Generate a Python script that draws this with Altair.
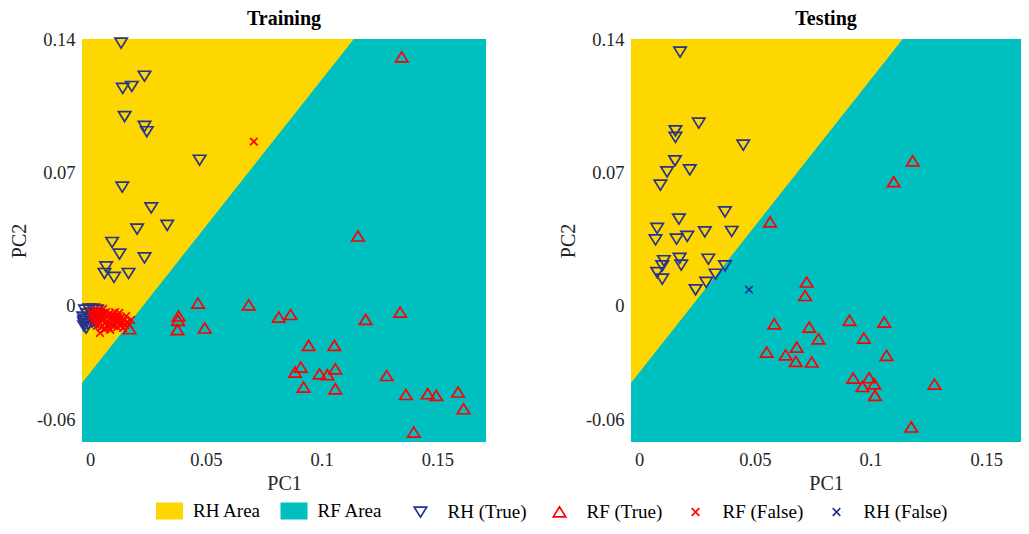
import altair as alt
import pandas as pd

# ---------------- data ----------------
AREAS = ["RH Area", "RF Area"]
CLASSES = ["RH (True)", "RF (True)", "RF (False)", "RH (False)"]

X_MIN = -0.0035
X_MAX_TRAIN = 0.171
X_MAX_TEST = 0.165
Y_MIN = -0.0716
Y_MAX = 0.1405

# decision boundary (RH area lies above / left of it)
boundary_x = [-0.0035, 0.1139]
boundary_y = [-0.0405, 0.1405]

# Training: RH (True)
train_rh_true_x = [0.0134, 0.0235, 0.0141, 0.0180, 0.0149, 0.0235, 0.0245, 0.0473, 0.0139, 0.0264,
                   0.0333, 0.0203, 0.0095, 0.0127, 0.0235, 0.0069, 0.0062, 0.0103, 0.0166,
                   -0.0022, -0.0004, 0.0013, 0.0030, -0.0013, 0.0004, 0.0022, -0.0030, -0.0017, 0.0000,
                   0.0017, 0.0035, -0.0026, -0.0009, -0.0026, -0.0017, -0.0026, 0.0009, 0.0026, 0.0048]
train_rh_true_y = [0.1384, 0.1210, 0.1146, 0.1156, 0.0998, 0.0946, 0.0918, 0.0768, 0.0626, 0.0517,
                   0.0425, 0.0405, 0.0335, 0.0274, 0.0254, 0.0207, 0.0172, 0.0151, 0.0172,
                   -0.0021, -0.0016, -0.0016, -0.0021, -0.0042, -0.0037, -0.0042, -0.0058, -0.0068, -0.0063,
                   -0.0068, -0.0058, -0.0089, -0.0095, -0.0105, -0.0116, -0.0079, -0.0084, -0.0089, -0.0047]

# Training: RF (True)
train_rf_true_x = [0.1157, 0.0466, 0.0685, 0.0382, 0.0380, 0.0377, 0.0495, 0.0815, 0.0866, 0.1190,
                   0.1339, 0.0944, 0.1055, 0.0910, 0.0885, 0.0991, 0.1025, 0.1059, 0.0922, 0.1059,
                   0.1281, 0.1364, 0.1458, 0.1495, 0.1589, 0.1613, 0.1398, 0.1346, 0.0170]
train_rf_true_y = [0.0367, 0.0014, 0.0005, -0.0054, -0.0077, -0.0126, -0.0117, -0.0060, -0.0046, -0.0072,
                   -0.0033, -0.0209, -0.0209, -0.0323, -0.0349, -0.0358, -0.0363, -0.0332, -0.0428, -0.0437,
                   -0.0367, -0.0467, -0.0463, -0.0472, -0.0454, -0.0542, -0.0665, 0.1310, -0.0121]

# Training: RF (False)
train_rf_false_x = [0.0004, 0.0017, 0.0030, 0.0043, 0.0056, 0.0069, 0.0082, 0.0095, 0.0108, 0.0121,
                    0.0134, 0.0147, 0.0160, 0.0169, 0.0009, 0.0022, 0.0035, 0.0048, 0.0061, 0.0074,
                    0.0087, 0.0100, 0.0113, 0.0126, 0.0139, 0.0152, 0.0013, 0.0026, 0.0039, 0.0052,
                    0.0065, 0.0078, 0.0091, 0.0104, 0.0117, 0.0130, 0.0143, 0.0030, 0.0048, 0.0065,
                    0.0043, 0.0082, 0.0108, 0.0126, 0.0156, 0.0177, 0.0056, 0.0087, 0.0707]
train_rf_false_y = [-0.0032, -0.0021, -0.0026, -0.0032, -0.0037, -0.0032, -0.0042, -0.0047, -0.0053, -0.0058,
                    -0.0063, -0.0074, -0.0084, -0.0100, -0.0053, -0.0047, -0.0053, -0.0058, -0.0063, -0.0058,
                    -0.0068, -0.0074, -0.0079, -0.0084, -0.0089, -0.0100, -0.0074, -0.0079, -0.0084, -0.0079,
                    -0.0089, -0.0095, -0.0100, -0.0105, -0.0111, -0.0105, -0.0116, -0.0105, -0.0111, -0.0121,
                    -0.0142, -0.0116, -0.0032, -0.0037, -0.0053, -0.0074, -0.0016, -0.0126, 0.0865]

# Testing: RH (True)
test_rh_true_x = [0.0258, 0.0157, 0.0157, 0.0450, 0.0155, 0.0121, 0.0219, 0.0092, 0.0371, 0.0172,
                  0.0078, 0.0071, 0.0162, 0.0208, 0.0284, 0.0400, 0.0107, 0.0175, 0.0182, 0.0299,
                  0.0100, 0.0078, 0.0100, 0.0371, 0.0330, 0.0290, 0.0244, 0.0177]
test_rh_true_y = [0.0963, 0.0923, 0.0888, 0.0847, 0.0765, 0.0707, 0.0717, 0.0637, 0.0496, 0.0458,
                  0.0409, 0.0349, 0.0353, 0.0367, 0.0391, 0.0393, 0.0239, 0.0251, 0.0216, 0.0247,
                  0.0212, 0.0177, 0.0142, 0.0212, 0.0168, 0.0125, 0.0086, 0.1337]

# Testing: RF (True)
test_rf_true_x = [0.0566, 0.0724, 0.0717, 0.0584, 0.0735, 0.0775, 0.0681, 0.0551, 0.0633, 0.0677,
                  0.0746, 0.0909, 0.1059, 0.0971, 0.1069, 0.0925, 0.0994, 0.0965, 0.1016, 0.1019,
                  0.1276, 0.1176, 0.1100, 0.1182]
test_rf_true_y = [0.0441, 0.0125, 0.0054, -0.0095, -0.0112, -0.0174, -0.0218, -0.0244, -0.0258, -0.0293,
                  -0.0296, -0.0077, -0.0086, -0.0170, -0.0261, -0.0381, -0.0379, -0.0425, -0.0411, -0.0472,
                  -0.0412, -0.0638, 0.0653, 0.0763]

# Testing: RH (False)
test_rh_false_x = [0.0475]
test_rh_false_y = [0.0086]

# ---------------- styles ----------------
GOLD = "#FFD700"
TEAL = "#00BFBF"
NAVY = "#25338F"
RED = "#FF0000"
FONT = "Liberation Serif"

RECT_PATH = "M-1.35,-0.85H1.35V0.85H-1.35Z"
TRI_DOWN = "M-0.62,-0.48L0.62,-0.48L0,0.52Z"
TRI_UP = "M-0.62,0.48L0.62,0.48L0,-0.52Z"
X_PATH = "M-0.38,-0.38L0.38,0.38M-0.38,0.38L0.38,-0.38"

SYM = 400


def points_frame(groups):
    frames = []
    for name, xs, ys in groups:
        frames.append(pd.DataFrame({"x": xs, "y": ys, "cls": name}))
    return pd.concat(frames, ignore_index=True)


train_pts = points_frame([
    ("RH (True)", train_rh_true_x, train_rh_true_y),
    ("RF (True)", train_rf_true_x, train_rf_true_y),
    ("RF (False)", train_rf_false_x, train_rf_false_y),
])
test_pts = points_frame([
    ("RH (True)", test_rh_true_x, test_rh_true_y),
    ("RF (True)", test_rf_true_x, test_rf_true_y),
    ("RH (False)", test_rh_false_x, test_rh_false_y),
])

LEG_COMMON = dict(
    orient="none", direction="horizontal", title=None,
    labelFont=FONT, labelFontSize=19, labelColor="black",
    symbolSize=SYM, padding=0, labelLimit=300,
)

area_legend = alt.Legend(legendX=77.5, legendY=462, symbolType=RECT_PATH, labelOffset=13.5,
                         columnPadding=18.5, symbolStrokeWidth=0, **LEG_COMMON)
pt_legend = alt.Legend(legendX=327.5, legendY=462, symbolStrokeWidth=1.7, labelOffset=16,
                       columnPadding=22, **LEG_COMMON)


def fmt_expr():
    return "datum.value < 0 ? '-' + format(-datum.value, '~r') : format(datum.value, '~r')"


def make_panel(pts, title, width, x_max):
    xs = alt.Scale(domain=[X_MIN, x_max], nice=False, zero=False)
    ys = alt.Scale(domain=[Y_MIN, Y_MAX], nice=False, zero=False)
    x_axis = alt.Axis(values=[0, 0.05, 0.1, 0.15], title="PC1", labelExpr=fmt_expr(),
                      domain=False, ticks=False, grid=False, labelFlush=False,
                      labelFont=FONT, labelFontSize=18.5, labelColor="#262626",
                      titleFont=FONT, titleFontSize=20, titleFontWeight="normal",
                      titleColor="#262626", labelPadding=8, titlePadding=5)
    y_axis = alt.Axis(values=[-0.06, 0, 0.07, 0.14], title="PC2", labelExpr=fmt_expr(),
                      domain=False, ticks=False, grid=False, labelFlush=False,
                      labelFont=FONT, labelFontSize=18.5, labelColor="#262626",
                      titleFont=FONT, titleFontSize=20, titleFontWeight="normal",
                      titleColor="#262626", labelPadding=7, titlePadding=7)

    fill_enc = alt.Fill("cls:N", scale=alt.Scale(domain=AREAS, range=[GOLD, TEAL]),
                        legend=area_legend)

    rf_df = pd.DataFrame({"x": [X_MIN], "x2": [x_max], "y": [Y_MIN], "y2": [Y_MAX], "cls": ["RF Area"]})
    rh_df = pd.DataFrame({"x": boundary_x, "y": boundary_y, "y2": [Y_MAX, Y_MAX], "cls": ["RH Area", "RH Area"]})

    rf = alt.Chart(rf_df).mark_rect(clip=True, strokeWidth=0).encode(
        x=alt.X("x:Q", scale=xs, axis=x_axis), x2="x2:Q",
        y=alt.Y("y:Q", scale=ys, axis=y_axis), y2="y2:Q",
        fill=fill_enc,
    )
    rh = alt.Chart(rh_df).mark_area(clip=True, interpolate="linear").encode(
        x=alt.X("x:Q", scale=xs), y=alt.Y("y:Q", scale=ys), y2="y2:Q",
        fill=fill_enc,
    )
    pts_layer = alt.Chart(pts).mark_point(filled=False, size=SYM, strokeWidth=1.7, opacity=1).encode(
        x=alt.X("x:Q", scale=xs),
        y=alt.Y("y:Q", scale=ys),
        stroke=alt.Stroke("cls:N", scale=alt.Scale(domain=CLASSES, range=[NAVY, RED, RED, NAVY]),
                          legend=pt_legend),
        shape=alt.Shape("cls:N", scale=alt.Scale(domain=CLASSES, range=[TRI_DOWN, TRI_UP, X_PATH, X_PATH]),
                        legend=pt_legend),
    )
    return alt.layer(rf, rh, pts_layer).properties(
        width=width, height=403,
        title=alt.TitleParams(title, font=FONT, fontSize=20, fontWeight="bold", color="black",
                              anchor="middle", offset=2),
    )


left = make_panel(train_pts, "Training", 404, X_MAX_TRAIN)
right = make_panel(test_pts, "Testing", 390, X_MAX_TEST)

chart = alt.hconcat(left, right, spacing=72).resolve_scale(
    fill="shared", stroke="shared", shape="shared"
).properties(
    padding={"left": 1, "top": 0, "right": 0, "bottom": 0}
).configure_view(stroke=None)

chart.save("out.html", embed_options={"renderer": "svg", "actions": False})
